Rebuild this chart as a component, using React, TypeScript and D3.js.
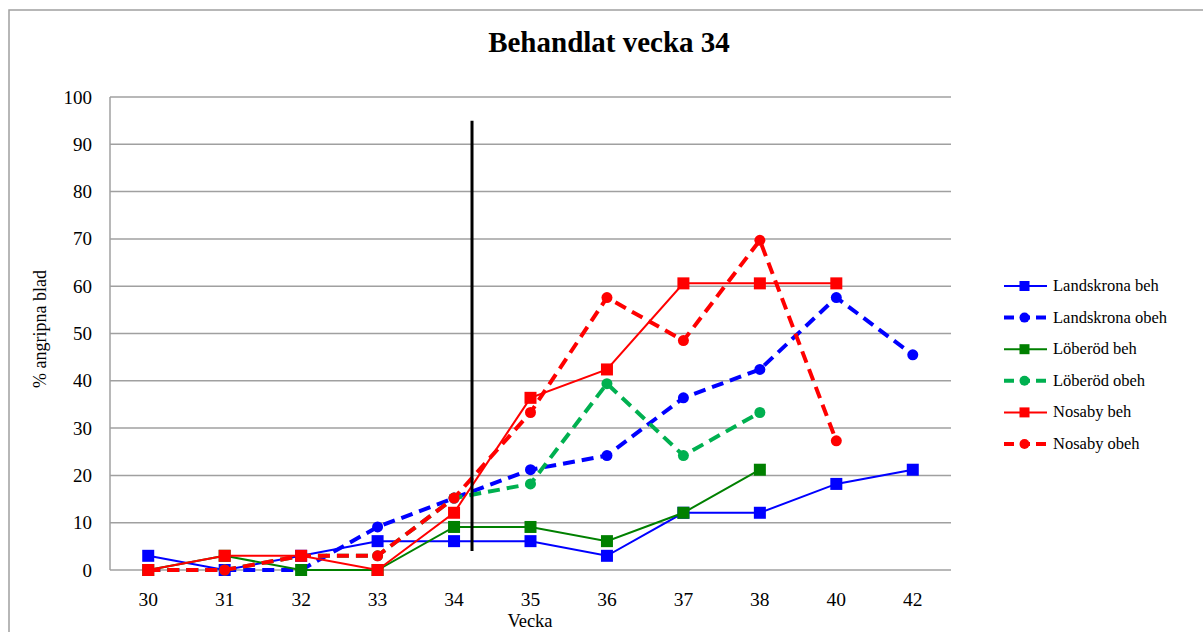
import React from "react";
import * as d3 from "d3";

const weeks = ["30", "31", "32", "33", "34", "35", "36", "37", "38", "40", "42"];
const yTicks = [0, 10, 20, 30, 40, 50, 60, 70, 80, 90, 100];

const landskronaBeh = [3.0, 0, 3.0, 6.1, 6.1, 6.1, 3.0, 12.1, 12.1, 18.2, 21.2];
const landskronaObeh = [0, 0, 0, 9.1, 15.2, 21.2, 24.2, 36.4, 42.4, 57.6, 45.5];
const loberodBeh = [0, 3.0, 0, 0, 9.1, 9.1, 6.1, 12.1, 21.2, null, null];
const loberodObeh = [0, 0, 3.0, 3.0, 15.2, 18.2, 39.4, 24.2, 33.3, null, null];
const nosabyBeh = [0, 3.0, 3.0, 0, 12.1, 36.4, 42.4, 60.6, 60.6, 60.6, null];
const nosabyObeh = [0, 0, 3.0, 3.0, 15.2, 33.3, 57.6, 48.5, 69.7, 27.3, null];

// treatment marker line (category index position, value range)
const treatPos = 4.235;
const treatRange = [4, 95];

type S = { name: string; values: (number | null)[]; color: string; dashed: boolean; marker: "square" | "circle" };
const series: S[] = [
  { name: "Landskrona beh", values: landskronaBeh, color: "#0000FF", dashed: false, marker: "square" },
  { name: "Landskrona obeh", values: landskronaObeh, color: "#0000FF", dashed: true, marker: "circle" },
  { name: "Löberöd beh", values: loberodBeh, color: "#008000", dashed: false, marker: "square" },
  { name: "Löberöd obeh", values: loberodObeh, color: "#00B050", dashed: true, marker: "circle" },
  { name: "Nosaby beh", values: nosabyBeh, color: "#FF0000", dashed: false, marker: "square" },
  { name: "Nosaby obeh", values: nosabyObeh, color: "#FF0000", dashed: true, marker: "circle" },
];

const W = 1203;
const H = 632;
const left = 110, right = 951, top = 97, bottom = 570;
const font = "'Liberation Serif', 'Times New Roman', Times, serif";

export default function App() {
  const x = d3.scaleBand<string>().domain(weeks).range([left, right]).padding(0);
  const xc = (i: number) => left + (i + 0.5) * x.bandwidth();
  const y = d3.scaleLinear().domain([0, 100]).range([bottom, top]);

  const line = d3
    .line<number | null>()
    .defined((d) => d !== null)
    .x((_, i) => xc(i))
    .y((d) => y(d as number));

  return (
    <svg width={W} height={H} style={{ position: "absolute", left: 0, top: 0, background: "#fff", fontFamily: font }}>
      <rect x={9} y={10} width={W + 20} height={H + 20} fill="#fff" stroke="#a0a0a0" strokeWidth={1.5} />
      <text x={609} y={52} textAnchor="middle" fontFamily={font} fontWeight="bold" fontSize={29}>
        Behandlat vecka 34
      </text>
      {yTicks.map((t) => (
        <g key={t}>
          <line x1={left} x2={right} y1={y(t)} y2={y(t)} stroke="#a0a0a0" strokeWidth={1.5} />
          <text x={92} y={y(t) + 6.5} textAnchor="end" fontFamily={font} fontSize={19}>
            {t}
          </text>
        </g>
      ))}
      <line x1={left} x2={left} y1={top} y2={bottom} stroke="#a0a0a0" strokeWidth={1.5} />
      {weeks.map((w, i) => (
        <text key={w} x={xc(i)} y={606} textAnchor="middle" fontFamily={font} fontSize={19.5}>
          {w}
        </text>
      ))}
      <text x={530} y={627} textAnchor="middle" fontFamily={font} fontSize={18.5}>
        Vecka
      </text>
      <text
        transform={`translate(46,329) rotate(-90)`}
        textAnchor="middle"
        fontFamily={font}
        fontSize={18}
      >
        % angripna blad
      </text>
      {series.map((s) => (
        <g key={s.name}>
          <path
            d={line(s.values) || ""}
            fill="none"
            stroke={s.color}
            strokeWidth={s.dashed ? 4 : 2}
            strokeDasharray={s.dashed ? "12,7" : undefined}
          />
          {s.values.map((v, i) =>
            v === null ? null : s.marker === "square" ? (
              <rect key={i} x={xc(i) - 6} y={y(v) - 6} width={12} height={12} fill={s.color} />
            ) : (
              <circle key={i} cx={xc(i)} cy={y(v)} r={5.5} fill={s.color} />
            )
          )}
        </g>
      ))}
      <line
        x1={left + (treatPos + 0.5) * x.bandwidth()}
        x2={left + (treatPos + 0.5) * x.bandwidth()}
        y1={y(treatRange[0])}
        y2={y(treatRange[1])}
        stroke="#000"
        strokeWidth={3}
      />
      {series.map((s, i) => {
        const ly = 286 + i * 31.6;
        return (
          <g key={s.name}>
            <line
              x1={1004}
              x2={1047}
              y1={ly}
              y2={ly}
              stroke={s.color}
              strokeWidth={s.dashed ? 4 : 2}
              strokeDasharray={s.dashed ? "10,6" : undefined}
            />
            {s.marker === "square" ? (
              <rect x={1019.5} y={ly - 5} width={10} height={10} fill={s.color} />
            ) : (
              <circle cx={1024.5} cy={ly} r={5} fill={s.color} />
            )}
            <text x={1053} y={ly + 5} fontFamily={font} fontSize={16.5}>
              {s.name}
            </text>
          </g>
        );
      })}
    </svg>
  );
}
